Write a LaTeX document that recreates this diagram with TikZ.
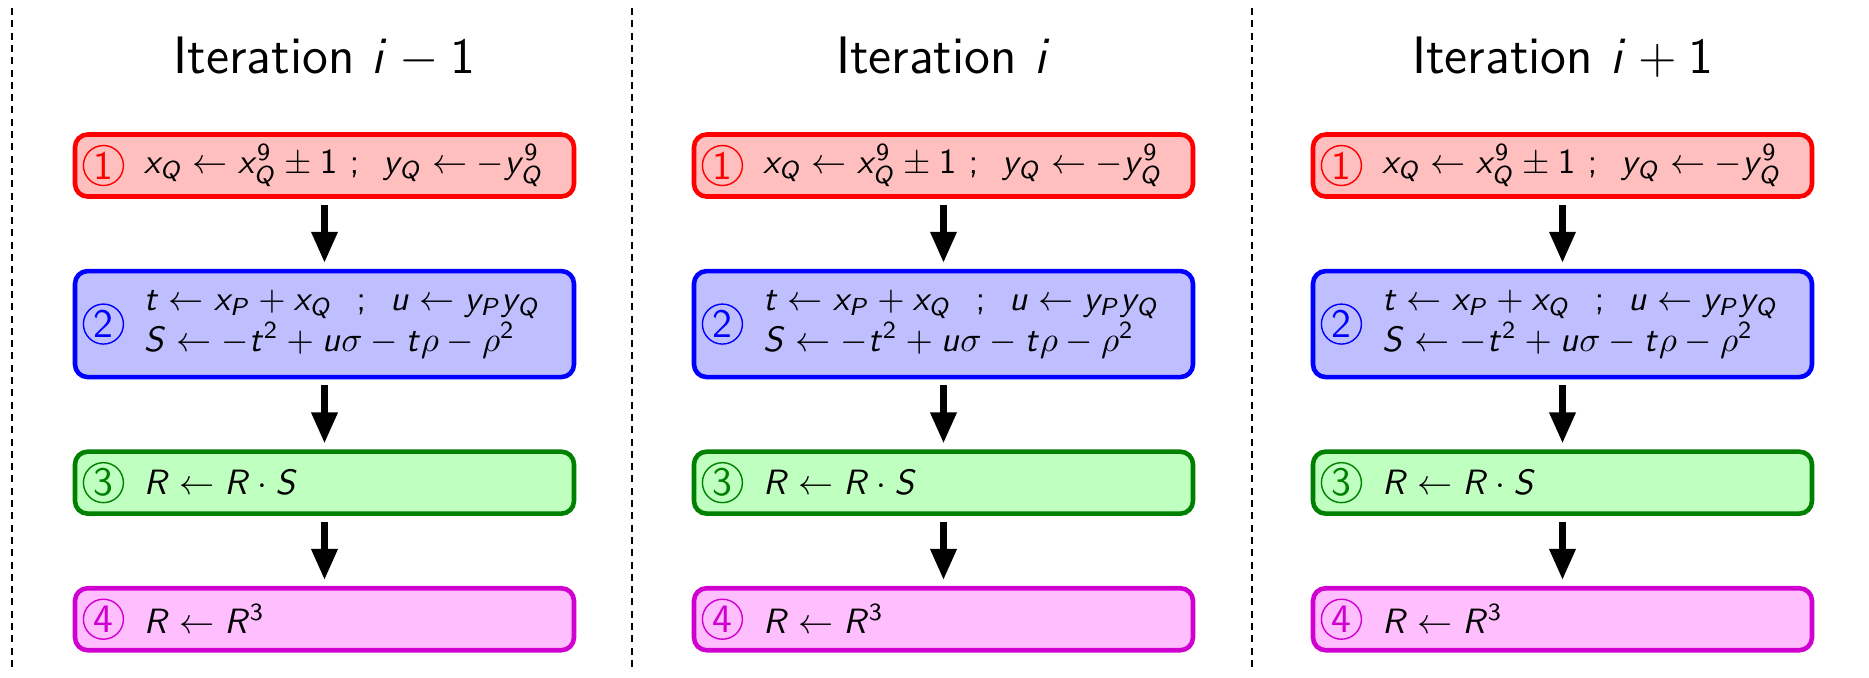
\documentclass[tikz,border=0pt]{standalone}
\usetikzlibrary{arrows.meta,positioning}
% sans-serif math letters and digits
\DeclareSymbolFont{sfletters}{OT1}{cmss}{m}{sl}
\SetSymbolFont{operators}{normal}{OT1}{cmss}{m}{n}
\DeclareMathSymbol{i}{\mathalpha}{sfletters}{`i}
\DeclareMathSymbol{t}{\mathalpha}{sfletters}{`t}
\DeclareMathSymbol{u}{\mathalpha}{sfletters}{`u}
\DeclareMathSymbol{x}{\mathalpha}{sfletters}{`x}
\DeclareMathSymbol{y}{\mathalpha}{sfletters}{`y}
\DeclareMathSymbol{P}{\mathalpha}{sfletters}{`P}
\DeclareMathSymbol{Q}{\mathalpha}{sfletters}{`Q}
\DeclareMathSymbol{R}{\mathalpha}{sfletters}{`R}
\DeclareMathSymbol{S}{\mathalpha}{sfletters}{`S}
\definecolor{upd}{HTML}{FF0000}
\definecolor{updfill}{HTML}{FFBFBF}
\definecolor{eval}{HTML}{0000FF}
\definecolor{evalfill}{HTML}{BFBFFF}
\definecolor{mul}{HTML}{008000}
\definecolor{mulfill}{HTML}{BFFFBF}
\definecolor{cube}{HTML}{D000D0}
\definecolor{cubefill}{HTML}{FFBFFF}

\begin{document}
\begin{tikzpicture}[
  font=\sffamily\fontsize{10.4}{10.8}\selectfont,
  box/.style={draw, rounded corners=3.6pt, line width=1.3pt, minimum height=0.62cm,
    text width=3.61cm, inner xsep=0.69cm, inner ysep=0pt, align=left},
  num/.style={circle, draw, line width=0.4pt, minimum size=0.40cm, inner sep=0pt,
    anchor=west, xshift=0.10cm, font=\sffamily\fontsize{11.5}{12}\selectfont},
  title/.style={font=\sffamily\fontsize{15}{18}\selectfont, anchor=base},
  flow/.style={-{Triangle[length=0.31cm,width=0.25cm]}, line width=1.9pt,
    shorten <=0.06cm, shorten >=0.06cm},
  sep/.style={dash pattern=on 2pt off 1.5pt, line width=0.5pt}
]
\useasboundingbox (0,0) rectangle (18.69,-6.77);

% column separators
\draw[sep] (0.12,-0.08) -- (0.12,-6.70);
\draw[sep] (6.32,-0.08) -- (6.32,-6.70);
\draw[sep] (12.52,-0.08) -- (12.52,-6.70);

% iteration i-1
\node[title] (title1) at (3.245,-0.73) {Iteration $i-1$};
\node[box,draw=upd,fill=updfill,label={[num,upd,name=nupd1]west:1}] (upd1) at (3.245,-1.655)
  {\mbox{$x_Q \leftarrow x_Q^9 \pm 1\ ;\ \,y_Q \leftarrow -y_Q^9$}};
\node[box,minimum height=1.06cm,draw=eval,fill=evalfill,label={[num,eval,name=neval1]west:2},below=0.70cm of upd1] (eval1)
  {\mbox{$t \leftarrow x_P + x_Q\ \,\,;\ \,u \leftarrow y_P y_Q$}\\[0.8pt]\mbox{$S \leftarrow -t^2 + u\sigma - t\rho - \rho^2$}};
\node[box,draw=mul,fill=mulfill,label={[num,mul,name=nmul1]west:3},below=0.70cm of eval1] (mul1)
  {\mbox{$R \leftarrow R \cdot S$}};
\node[box,draw=cube,fill=cubefill,label={[num,cube,name=ncube1]west:4},below=0.70cm of mul1] (cube1)
  {\mbox{$R \leftarrow R^3$}};

\draw[flow] (upd1) -- (eval1);
\draw[flow] (eval1) -- (mul1);
\draw[flow] (mul1) -- (cube1);

% iteration i
\node[title] (title2) at (9.435,-0.73) {Iteration $i$};
\node[box,draw=upd,fill=updfill,label={[num,upd,name=nupd2]west:1}] (upd2) at (9.435,-1.655)
  {\mbox{$x_Q \leftarrow x_Q^9 \pm 1\ ;\ \,y_Q \leftarrow -y_Q^9$}};
\node[box,minimum height=1.06cm,draw=eval,fill=evalfill,label={[num,eval,name=neval2]west:2},below=0.70cm of upd2] (eval2)
  {\mbox{$t \leftarrow x_P + x_Q\ \,\,;\ \,u \leftarrow y_P y_Q$}\\[0.8pt]\mbox{$S \leftarrow -t^2 + u\sigma - t\rho - \rho^2$}};
\node[box,draw=mul,fill=mulfill,label={[num,mul,name=nmul2]west:3},below=0.70cm of eval2] (mul2)
  {\mbox{$R \leftarrow R \cdot S$}};
\node[box,draw=cube,fill=cubefill,label={[num,cube,name=ncube2]west:4},below=0.70cm of mul2] (cube2)
  {\mbox{$R \leftarrow R^3$}};

\draw[flow] (upd2) -- (eval2);
\draw[flow] (eval2) -- (mul2);
\draw[flow] (mul2) -- (cube2);

% iteration i+1
\node[title] (title3) at (15.625,-0.73) {Iteration $i+1$};
\node[box,draw=upd,fill=updfill,label={[num,upd,name=nupd3]west:1}] (upd3) at (15.625,-1.655)
  {\mbox{$x_Q \leftarrow x_Q^9 \pm 1\ ;\ \,y_Q \leftarrow -y_Q^9$}};
\node[box,minimum height=1.06cm,draw=eval,fill=evalfill,label={[num,eval,name=neval3]west:2},below=0.70cm of upd3] (eval3)
  {\mbox{$t \leftarrow x_P + x_Q\ \,\,;\ \,u \leftarrow y_P y_Q$}\\[0.8pt]\mbox{$S \leftarrow -t^2 + u\sigma - t\rho - \rho^2$}};
\node[box,draw=mul,fill=mulfill,label={[num,mul,name=nmul3]west:3},below=0.70cm of eval3] (mul3)
  {\mbox{$R \leftarrow R \cdot S$}};
\node[box,draw=cube,fill=cubefill,label={[num,cube,name=ncube3]west:4},below=0.70cm of mul3] (cube3)
  {\mbox{$R \leftarrow R^3$}};

\draw[flow] (upd3) -- (eval3);
\draw[flow] (eval3) -- (mul3);
\draw[flow] (mul3) -- (cube3);

\end{tikzpicture}
\end{document}
